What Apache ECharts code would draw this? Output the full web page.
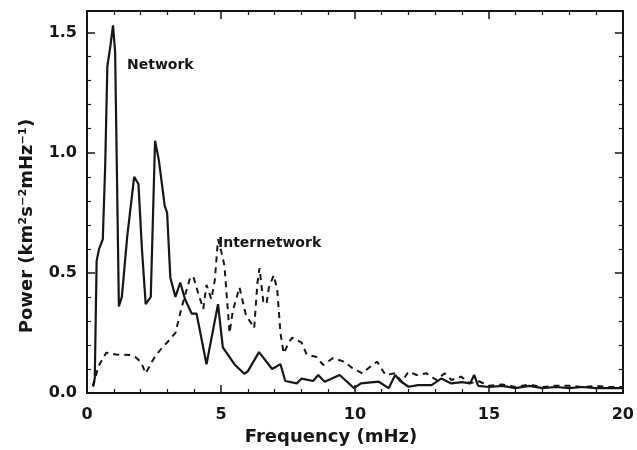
<!DOCTYPE html>
<html>
<head>
<meta charset="utf-8">
<script src="https://cdn.jsdelivr.net/npm/echarts@6/dist/echarts.min.js"></script>
<style>
html,body{margin:0;padding:0;background:#fff;}
#chart{width:637px;height:450px;}
</style>
</head>
<body>
<div id="chart"></div>
<script>
// ---- data ----
var networkFreq = [0.22,0.29,0.36,0.45,0.59,0.68,0.76,0.88,0.97,1.05,1.19,1.30,1.50,1.76,1.92,2.05,2.19,2.38,2.54,2.68,2.90,2.99,3.11,3.30,3.48,3.66,3.91,4.09,4.46,4.89,5.07,5.50,5.87,6.00,6.42,6.91,7.22,7.40,7.83,8.01,8.44,8.63,8.87,9.43,9.97,10.22,10.89,11.26,11.50,11.69,12.00,12.36,12.86,13.22,13.60,14.00,14.30,14.45,14.60,15.00,15.50,16.00,16.50,17.00,17.50,18.00,18.50,19.00,19.50,20.00];
var networkPower = [0.03,0.06,0.55,0.60,0.64,0.95,1.36,1.45,1.53,1.42,0.36,0.40,0.65,0.90,0.87,0.60,0.37,0.40,1.05,0.97,0.78,0.75,0.48,0.40,0.46,0.39,0.33,0.33,0.12,0.37,0.19,0.12,0.08,0.09,0.17,0.10,0.12,0.05,0.04,0.06,0.05,0.075,0.047,0.075,0.02,0.04,0.047,0.02,0.075,0.05,0.026,0.033,0.033,0.06,0.04,0.045,0.04,0.075,0.03,0.025,0.03,0.02,0.03,0.02,0.025,0.02,0.025,0.02,0.02,0.02];

var interFreq = [0.23,0.42,0.72,1.09,1.58,1.80,2.01,2.19,2.50,2.81,2.99,3.30,3.54,3.85,3.97,4.15,4.34,4.46,4.64,4.77,4.89,5.01,5.13,5.32,5.44,5.69,5.93,6.24,6.36,6.44,6.58,6.70,6.79,6.97,7.10,7.22,7.34,7.53,7.65,8.01,8.20,8.57,8.81,9.18,9.61,9.91,10.28,10.65,10.83,11.14,11.50,11.75,12.00,12.30,12.67,13.04,13.35,13.60,13.96,14.30,14.60,15.00,15.50,16.00,16.50,17.00,17.50,18.00,18.50,19.00,19.50,20.00];
var interPower = [0.026,0.11,0.168,0.16,0.158,0.15,0.13,0.082,0.145,0.19,0.21,0.25,0.36,0.48,0.485,0.415,0.35,0.45,0.39,0.47,0.64,0.59,0.53,0.25,0.34,0.44,0.325,0.27,0.457,0.52,0.38,0.37,0.44,0.49,0.43,0.25,0.165,0.21,0.23,0.21,0.16,0.15,0.117,0.145,0.13,0.103,0.082,0.117,0.13,0.075,0.082,0.047,0.089,0.075,0.082,0.054,0.082,0.054,0.068,0.04,0.05,0.03,0.035,0.025,0.035,0.025,0.03,0.03,0.025,0.03,0.025,0.025];

var xTicks = [0,5,10,15,20];
var yTicks = [0.0,0.5,1.0,1.5];
var seriesNames = ['Network','Internetwork'];
var xTitle = 'Frequency (mHz)';
var yTitle = 'Power (km²s⁻²mHz⁻¹)';

function pairs(xs, ys){ var out=[]; for(var i=0;i<xs.length;i++){ out.push([xs[i],ys[i]]); } return out; }

var FONT = 'DejaVu Sans';
var INK = '#161616';

function isTick(v, list){ for(var i=0;i<list.length;i++){ if(Math.abs(v-list[i])<1e-6) return true; } return false; }

var axisCommon = {
  axisLine:{show:true, onZero:false, lineStyle:{color:INK, width:2}},
  axisTick:{show:true, inside:true, length:8, lineStyle:{color:INK, width:1.5}},
  minorTick:{show:true, splitNumber:5, length:4, lineStyle:{color:INK, width:1.2}},
  splitLine:{show:false},
  minorSplitLine:{show:false}
};

function mk(base, extra){ var o = JSON.parse(JSON.stringify(base)); for (var k in extra) o[k]=extra[k]; return o; }

var chart = echarts.init(document.getElementById('chart'), null, {renderer:'canvas'});
chart.setOption({
  backgroundColor:'#ffffff',
  animation:false,
  grid:{left:87, right:6, top:11, bottom:57},
  xAxis:[
    mk(axisCommon, {type:'value', position:'bottom', min:0, max:20, interval:5,
      axisLabel:{show:true, margin:14, color:INK, fontFamily:FONT, fontWeight:'bold', fontSize:16,
        formatter:function(v){ return isTick(v,xTicks) ? String(v) : ''; }}}),
    mk(axisCommon, {type:'value', position:'top', min:0, max:20, interval:5, axisLabel:{show:false}})
  ],
  yAxis:[
    mk(axisCommon, {type:'value', position:'left', min:0, max:1.59, interval:0.5,
      axisLabel:{show:true, margin:10, color:INK, fontFamily:FONT, fontWeight:'bold', fontSize:16,
        formatter:function(v){ return isTick(v,yTicks) ? v.toFixed(1) : ''; }}}),
    mk(axisCommon, {type:'value', position:'right', min:0, max:1.59, interval:0.5, axisLabel:{show:false}})
  ],
  series:[
    {name:seriesNames[0], type:'line', xAxisIndex:0, yAxisIndex:0, data:pairs(networkFreq, networkPower),
      showSymbol:false, symbol:'none', lineStyle:{color:INK, width:2.2, type:'solid'}, z:3},
    {name:seriesNames[1], type:'line', xAxisIndex:0, yAxisIndex:0, data:pairs(interFreq, interPower),
      showSymbol:false, symbol:'none', lineStyle:{color:INK, width:2, type:[6,5]}, z:2}
  ],
  graphic:[
    {type:'text', left:127, top:58, style:{text:seriesNames[0], fill:INK, font:'bold 14px "DejaVu Sans"'}},
    {type:'text', left:218, top:236, style:{text:seriesNames[1], fill:INK, font:'bold 14px "DejaVu Sans"'}},
    {type:'text', x:331, y:437, style:{text:xTitle, fill:INK, font:'bold 18px "DejaVu Sans"', align:'center', verticalAlign:'middle'}},
    {type:'text', x:27, y:226, rotation:Math.PI/2, style:{text:yTitle, fill:INK, font:'bold 18px "DejaVu Sans"', align:'center', verticalAlign:'middle'}}
  ]
});
</script>
</body>
</html>
